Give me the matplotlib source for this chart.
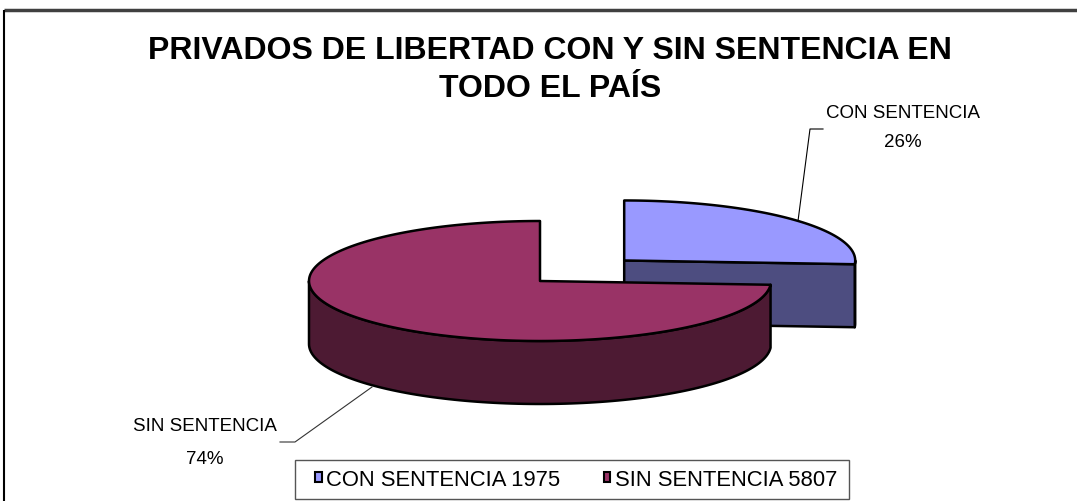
import numpy as np
import matplotlib
matplotlib.use('Agg')
import matplotlib.pyplot as plt
from matplotlib.patches import Polygon, Patch, Rectangle

plt.rcParams['font.family'] = ['Liberation Sans', 'DejaVu Sans']

### Data
categories = ['CON SENTENCIA', 'SIN SENTENCIA']
counts = [1975, 5807]          # shown in legend
shares = [26, 74]              # percent labels on the slices
top_colors = ['#9999ff', '#993366']
side_colors = ['#4d4d80', '#4d1a33']
title = 'PRIVADOS DE LIBERTAD CON Y SIN SENTENCIA EN\nTODO EL PAÍS'

### Pie geometry (pixels)
cx, cy = 540, 282      # centre of top face
a, b = 231, 60         # ellipse radii
depth = 63
explode = [0.5, 0.0]


def rim(x0, y0, t, dz=0):
    t = np.radians(t)
    return np.column_stack([x0 + a*np.cos(t), y0 - b*np.sin(t) + dz])


def draw_slice(ax, x0, y0, t0, t1, top, side):
    # slice runs clockwise from t0 down to t1 (degrees)
    ts = np.linspace(t0, t1, 200)
    kw = dict(closed=True, ec='black', lw=1.8, joinstyle='round')
    # visible curved side: where sin < 0
    for k in range(-2, 2):
        s0, s1 = max(t1, -180 + 360*k), min(t0, 360*k)
        if s1 > s0:
            arc = np.linspace(s0, s1, 120)
            pts = np.vstack([rim(x0, y0, arc), rim(x0, y0, arc[::-1], depth)])
            ax.add_patch(Polygon(pts, fc=side, **kw))
    # radial cut faces turned toward the viewer
    for t, sgn in ((t1, -1), (t0, 1)):
        n = np.radians(t + sgn*90)
        if np.sin(n) < -1e-6:
            p = rim(x0, y0, [t])[0]
            pts = [(x0, y0), p, (p[0], p[1] + depth), (x0, y0 + depth)]
            ax.add_patch(Polygon(pts, fc=side, **kw))
    pts = np.vstack([[x0, y0], rim(x0, y0, ts)])
    ax.add_patch(Polygon(pts, fc=top, **kw))


def main():
    fig = plt.figure(figsize=(10.77, 5.02), dpi=100)
    ax = fig.add_axes([0, 0, 1, 1])
    ax.set_xlim(0, 1077)
    ax.set_ylim(502, 0)
    ax.axis('off')

    total = sum(shares)
    fracs = [v/total for v in shares]
    starts = [90 - 360*sum(fracs[:i]) for i in range(len(shares))]
    ends = [s - 360*f for s, f in zip(starts, fracs)]

    # exploded blue first (behind), then red
    for i in range(len(shares)):
        mid = np.radians((starts[i] + ends[i])/2)
        x0 = cx + explode[i]*a*np.cos(mid)
        y0 = cy - explode[i]*b*np.sin(mid)
        draw_slice(ax, x0, y0, starts[i], ends[i], top_colors[i], side_colors[i])

    # data labels with leader lines
    lab_pos = [(903, 114, 143), (205, 427, 460)]
    for i, (x, y1, y2) in enumerate(lab_pos):
        ax.text(x, y1, categories[i], ha='center', va='center', fontsize=13.5)
        ax.text(x, y2, f'{shares[i]}%', ha='center', va='center', fontsize=13.5)
    ax.plot([823, 810, 798], [130, 130, 222], color='black', lw=0.8)
    ax.plot([280, 295, 372], [443, 443, 388], color='#333333', lw=0.8)

    ax.text(550, 70, title, ha='center', va='center', fontsize=23,
            fontweight='bold', linespacing=1.38)

    # chart frame
    ax.plot([4, 1077], [11, 11], color='#404040', lw=2.5, solid_capstyle='butt')
    ax.plot([4, 4], [11, 502], color='black', lw=1.5, solid_capstyle='butt')

    handles = [Patch(fc=top_colors[i], ec='black', lw=1.5) for i in range(len(counts))]
    labels = [f'{c} {v}' for c, v in zip(categories, counts)]
    leg = fig.legend(handles, labels, loc='center', bbox_to_anchor=(0.535, 0.043),
                     ncol=2, fontsize=15.8, frameon=False,
                     handlelength=0.28, handleheight=0.28, handletextpad=0.2,
                     columnspacing=2.0, borderpad=0, borderaxespad=0)
    fig.canvas.draw()
    bb = leg.get_window_extent(fig.canvas.get_renderer())
    inv = fig.transFigure.inverted()
    (x0, y0), (x1, y1) = inv.transform([(bb.x0 - 20, bb.y0 - 9), (bb.x1 + 12, bb.y1 + 9)])
    fig.add_artist(Rectangle((x0, y0), x1 - x0, y1 - y0, transform=fig.transFigure,
                             fc='none', ec='#555555', lw=1.0))

    fig.savefig('out.png', dpi=100, facecolor='white')


if __name__ == "__main__":
    main()
